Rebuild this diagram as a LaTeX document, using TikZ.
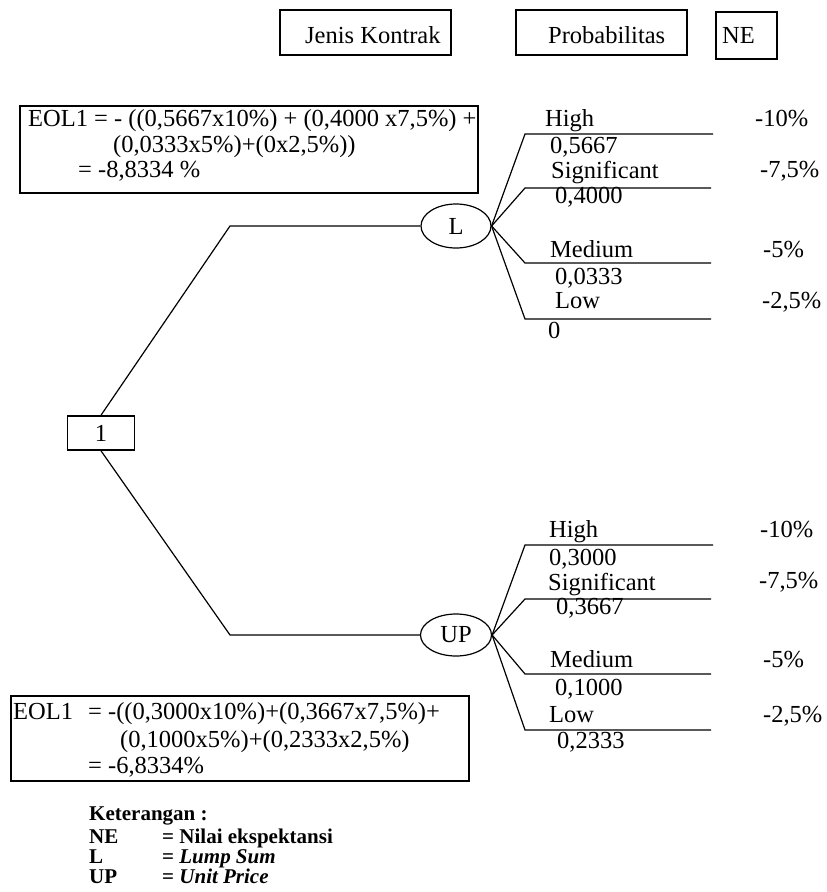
\documentclass[tikz,border=0pt]{standalone}
\usepackage{fontspec}
\setmainfont{Liberation Serif}
\usetikzlibrary{shapes.geometric}
\begin{document}
\begin{tikzpicture}[x=1pt,y=-1pt,
  txt/.style={anchor=base west, inner sep=0pt, font=\fontsize{24.5}{25}\selectfont},
  leg/.style={anchor=base west, inner sep=0pt, font=\fontsize{21}{20}\selectfont\bfseries},
  frame/.style={draw, line width=1.6pt, inner sep=0pt, anchor=north west},
  chance/.style={draw, ellipse, line width=1.2pt, inner sep=0pt, font=\fontsize{24.5}{25}\selectfont},
  ln/.style={line width=1.2pt}]
\useasboundingbox (0,0) rectangle (827,892);

% header boxes
\node[frame, minimum width=171pt, minimum height=45pt] (hjk) at (279,9) {};
\node[txt] (tjk) at (305,43) {Jenis Kontrak};
\node[frame, minimum width=171pt, minimum height=45pt] (hpr) at (515,9) {};
\node[txt] (tpr) at (548,43) {Probabilitas};
\node[frame, minimum width=61pt, minimum height=47pt] (hne) at (715,11) {};
\node[txt] (tne) at (722,43) {NE};

% EOL boxes
\node[frame, minimum width=458pt, minimum height=87pt] (eolA) at (19,105) {};
\node[txt] (eA1) at (28,126) {EOL1 = - ((0,5667x10\%) + (0,4000 x7,5\%) +};
\node[txt] (eA2) at (113,152) {(0,0333x5\%)+(0x2,5\%))};
\node[txt] (eA3) at (78,177) {= -8,8334 \%};

\node[frame, minimum width=458pt, minimum height=85pt] (eolB) at (10,695) {};
\node[txt] (eB0) at (13,719) {EOL1};
\node[txt] (eB1) at (88,719) {= -((0,3000x10\%)+(0,3667x7,5\%)+};
\node[txt] (eB2) at (120,747) {(0,1000x5\%)+(0,2333x2,5\%)};
\node[txt] (eB3) at (88,773) {= -6,8334\%};

% root
\node[draw, line width=1.6pt, minimum width=67pt, minimum height=34pt, inner sep=0pt,
      font=\fontsize{24.5}{25}\selectfont] (root) at (101,433) {1};

% chance nodes
\node[chance, minimum width=70pt, minimum height=44pt] (L) at (456,226) {L};
\node[chance, minimum width=71pt, minimum height=42pt] (UP) at (456,635) {UP};

\coordinate (kA) at (230,226);
\coordinate (kB) at (230,635);
\draw[ln] (root.north) -- (kA) -- (L.west);
\draw[ln] (root.south) -- (kB) -- (UP.west);

% upper branches
\coordinate (a1) at (525,134); \coordinate (a1e) at (713,134);
\coordinate (a2) at (525,188); \coordinate (a2e) at (711,188);
\coordinate (a3) at (525,263); \coordinate (a3e) at (711,263);
\coordinate (a4) at (525,319); \coordinate (a4e) at (711,319);
\foreach \p in {1,2,3,4}{\draw[ln] (L.east) -- (a\p) -- (a\p e);}

\node[txt] (ah) at (545,126) {High};
\node[txt] (ap1) at (550,153) {0,5667};
\node[txt] (as) at (551,178) {Significant};
\node[txt] (ap2) at (555,203) {0,4000};
\node[txt] (am) at (550,257) {Medium};
\node[txt] (ap3) at (555,284) {0,0333};
\node[txt] (al) at (555,308) {Low};
\node[txt] (ap4) at (548,338) {0};
\node[txt] (an1) at (755,126) {-10\%};
\node[txt] (an2) at (760,177) {-7,5\%};
\node[txt] (an3) at (763,257) {-5\%};
\node[txt] (an4) at (762,308) {-2,5\%};

% lower branches
\coordinate (b1) at (525,545); \coordinate (b1e) at (713,545);
\coordinate (b2) at (525,599); \coordinate (b2e) at (711,599);
\coordinate (b3) at (525,674); \coordinate (b3e) at (711,674);
\coordinate (b4) at (525,730); \coordinate (b4e) at (711,730);
\foreach \p in {1,2,3,4}{\draw[ln] (UP.east) -- (b\p) -- (b\p e);}

\node[txt] (bh) at (549,537) {High};
\node[txt] (bp1) at (549,565) {0,3000};
\node[txt] (bs) at (548,590) {Significant};
\node[txt] (bp2) at (556,614) {0,3667};
\node[txt] (bm) at (550,667) {Medium};
\node[txt] (bp3) at (555,695) {0,1000};
\node[txt] (bl) at (549,722) {Low};
\node[txt] (bp4) at (557,748) {0,2333};
\node[txt] (bn1) at (760,537) {-10\%};
\node[txt] (bn2) at (759,588) {-7,5\%};
\node[txt] (bn3) at (763,667) {-5\%};
\node[txt] (bn4) at (763,722) {-2,5\%};

% legend
\node[leg] (k0) at (89,820) {Keterangan :};
\node[leg] (k1) at (89,843) {NE};
\node[leg] (k1b) at (162,843) {= Nilai ekspektansi};
\node[leg] (k2) at (89,863) {L};
\node[leg] (k2b) at (162,863) {= \textit{Lump Sum}};
\node[leg] (k3) at (89,883) {UP};
\node[leg] (k3b) at (162,883) {= \textit{Unit Price}};
\end{tikzpicture}
\end{document}
